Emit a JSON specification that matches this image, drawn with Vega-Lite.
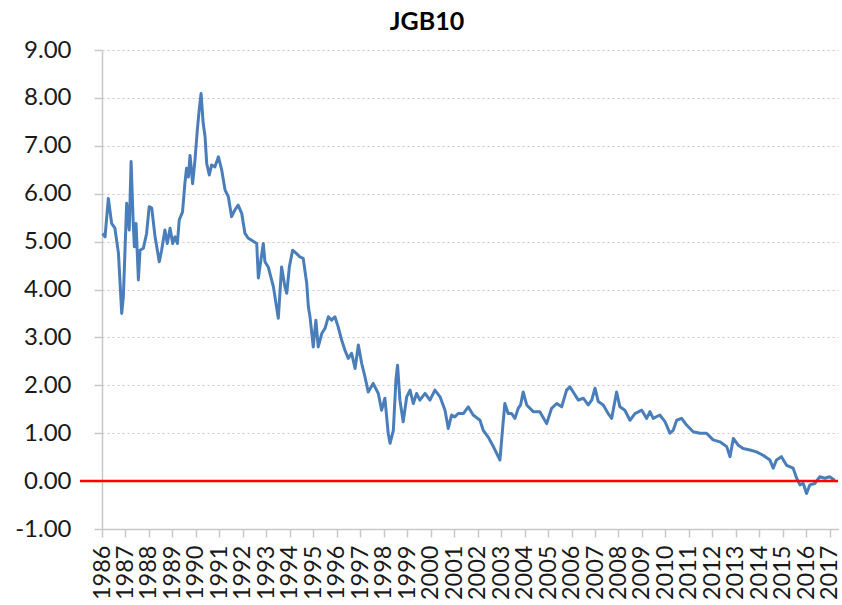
{
  "$schema": "https://vega.github.io/schema/vega-lite/v6.json",
  "width": 736,
  "height": 479,
  "autosize": "none",
  "padding": {"left": 102, "top": 50, "right": 4, "bottom": 76},
  "background": "white",
  "title": {"text": "JGB10", "font": "Lato", "fontSize": 25, "fontWeight": "bold", "color": "#000000", "anchor": "middle", "dx": -43, "dy": 21, "offset": 4, "baseline": "alphabetic"},
  "config": {"view": {"stroke": null}, "font": "Lato"},
  "resolve": {"axis": {"x": "independent"}},
  "layer": [
    {
      "data": {"values": [
        {"year": 1986.03, "yield": 5.17}, {"year": 1986.13, "yield": 5.10}, {"year": 1986.27, "yield": 5.90}, {"year": 1986.41, "yield": 5.38},
        {"year": 1986.55, "yield": 5.28}, {"year": 1986.70, "yield": 4.76}, {"year": 1986.84, "yield": 3.50}, {"year": 1986.91, "yield": 3.85},
        {"year": 1987.05, "yield": 5.80}, {"year": 1987.16, "yield": 5.24}, {"year": 1987.24, "yield": 6.67}, {"year": 1987.33, "yield": 5.38},
        {"year": 1987.38, "yield": 4.89}, {"year": 1987.45, "yield": 5.38}, {"year": 1987.55, "yield": 4.20}, {"year": 1987.62, "yield": 4.82},
        {"year": 1987.76, "yield": 4.86}, {"year": 1987.90, "yield": 5.17}, {"year": 1988.01, "yield": 5.73}, {"year": 1988.12, "yield": 5.70},
        {"year": 1988.26, "yield": 5.10}, {"year": 1988.44, "yield": 4.58}, {"year": 1988.54, "yield": 4.82}, {"year": 1988.68, "yield": 5.24},
        {"year": 1988.78, "yield": 4.96}, {"year": 1988.90, "yield": 5.28}, {"year": 1989.01, "yield": 4.96}, {"year": 1989.11, "yield": 5.10},
        {"year": 1989.21, "yield": 4.96}, {"year": 1989.29, "yield": 5.45}, {"year": 1989.43, "yield": 5.62}, {"year": 1989.53, "yield": 6.21},
        {"year": 1989.60, "yield": 6.53}, {"year": 1989.68, "yield": 6.35}, {"year": 1989.75, "yield": 6.80}, {"year": 1989.86, "yield": 6.21},
        {"year": 1989.96, "yield": 6.70}, {"year": 1990.06, "yield": 7.33}, {"year": 1990.14, "yield": 7.75}, {"year": 1990.22, "yield": 8.09},
        {"year": 1990.31, "yield": 7.47}, {"year": 1990.39, "yield": 7.19}, {"year": 1990.46, "yield": 6.63}, {"year": 1990.57, "yield": 6.39},
        {"year": 1990.67, "yield": 6.60}, {"year": 1990.81, "yield": 6.56}, {"year": 1990.96, "yield": 6.77}, {"year": 1991.10, "yield": 6.49},
        {"year": 1991.24, "yield": 6.08}, {"year": 1991.38, "yield": 5.94}, {"year": 1991.52, "yield": 5.52}, {"year": 1991.66, "yield": 5.66},
        {"year": 1991.80, "yield": 5.76}, {"year": 1991.95, "yield": 5.59}, {"year": 1992.09, "yield": 5.17}, {"year": 1992.23, "yield": 5.07},
        {"year": 1992.37, "yield": 5.03}, {"year": 1992.59, "yield": 4.96}, {"year": 1992.66, "yield": 4.24}, {"year": 1992.87, "yield": 4.96},
        {"year": 1992.94, "yield": 4.58}, {"year": 1993.08, "yield": 4.47}, {"year": 1993.30, "yield": 4.06}, {"year": 1993.51, "yield": 3.40},
        {"year": 1993.65, "yield": 4.47}, {"year": 1993.79, "yield": 4.06}, {"year": 1993.87, "yield": 3.92}, {"year": 1993.98, "yield": 4.47},
        {"year": 1994.12, "yield": 4.82}, {"year": 1994.29, "yield": 4.75}, {"year": 1994.43, "yield": 4.68}, {"year": 1994.57, "yield": 4.65},
        {"year": 1994.72, "yield": 4.13}, {"year": 1994.79, "yield": 3.64}, {"year": 1994.86, "yield": 3.43}, {"year": 1995.00, "yield": 2.80},
        {"year": 1995.11, "yield": 3.36}, {"year": 1995.21, "yield": 2.80}, {"year": 1995.36, "yield": 3.08}, {"year": 1995.50, "yield": 3.19},
        {"year": 1995.64, "yield": 3.43}, {"year": 1995.78, "yield": 3.36}, {"year": 1995.92, "yield": 3.43}, {"year": 1996.06, "yield": 3.22},
        {"year": 1996.21, "yield": 2.94}, {"year": 1996.35, "yield": 2.73}, {"year": 1996.49, "yield": 2.56}, {"year": 1996.63, "yield": 2.67},
        {"year": 1996.78, "yield": 2.35}, {"year": 1996.92, "yield": 2.84}, {"year": 1997.06, "yield": 2.46}, {"year": 1997.20, "yield": 2.18},
        {"year": 1997.34, "yield": 1.86}, {"year": 1997.55, "yield": 2.04}, {"year": 1997.77, "yield": 1.83}, {"year": 1997.91, "yield": 1.48},
        {"year": 1998.05, "yield": 1.73}, {"year": 1998.19, "yield": 1.00}, {"year": 1998.27, "yield": 0.79}, {"year": 1998.41, "yield": 1.06},
        {"year": 1998.52, "yield": 2.11}, {"year": 1998.59, "yield": 2.42}, {"year": 1998.69, "yield": 1.69}, {"year": 1998.83, "yield": 1.24},
        {"year": 1998.98, "yield": 1.76}, {"year": 1999.12, "yield": 1.90}, {"year": 1999.26, "yield": 1.62}, {"year": 1999.40, "yield": 1.83},
        {"year": 1999.54, "yield": 1.69}, {"year": 1999.76, "yield": 1.83}, {"year": 1999.97, "yield": 1.69}, {"year": 2000.18, "yield": 1.90},
        {"year": 2000.40, "yield": 1.76}, {"year": 2000.61, "yield": 1.48}, {"year": 2000.75, "yield": 1.10}, {"year": 2000.89, "yield": 1.38},
        {"year": 2001.03, "yield": 1.34}, {"year": 2001.17, "yield": 1.41}, {"year": 2001.39, "yield": 1.41}, {"year": 2001.60, "yield": 1.55},
        {"year": 2001.81, "yield": 1.38}, {"year": 2002.10, "yield": 1.27}, {"year": 2002.24, "yield": 1.06}, {"year": 2002.45, "yield": 0.92},
        {"year": 2002.67, "yield": 0.72}, {"year": 2002.95, "yield": 0.44}, {"year": 2003.07, "yield": 1.13}, {"year": 2003.16, "yield": 1.62},
        {"year": 2003.30, "yield": 1.41}, {"year": 2003.45, "yield": 1.41}, {"year": 2003.59, "yield": 1.31}, {"year": 2003.73, "yield": 1.52},
        {"year": 2003.83, "yield": 1.59}, {"year": 2003.94, "yield": 1.86}, {"year": 2004.09, "yield": 1.59}, {"year": 2004.37, "yield": 1.45},
        {"year": 2004.65, "yield": 1.45}, {"year": 2004.94, "yield": 1.20}, {"year": 2005.15, "yield": 1.52}, {"year": 2005.37, "yield": 1.62},
        {"year": 2005.58, "yield": 1.55}, {"year": 2005.79, "yield": 1.90}, {"year": 2005.93, "yield": 1.97}, {"year": 2006.07, "yield": 1.86},
        {"year": 2006.29, "yield": 1.69}, {"year": 2006.50, "yield": 1.73}, {"year": 2006.71, "yield": 1.59}, {"year": 2006.86, "yield": 1.69},
        {"year": 2007.00, "yield": 1.94}, {"year": 2007.14, "yield": 1.66}, {"year": 2007.35, "yield": 1.59}, {"year": 2007.56, "yield": 1.41},
        {"year": 2007.71, "yield": 1.31}, {"year": 2007.92, "yield": 1.86}, {"year": 2008.06, "yield": 1.55}, {"year": 2008.27, "yield": 1.48},
        {"year": 2008.49, "yield": 1.27}, {"year": 2008.70, "yield": 1.41}, {"year": 2008.99, "yield": 1.48}, {"year": 2009.20, "yield": 1.31},
        {"year": 2009.34, "yield": 1.45}, {"year": 2009.48, "yield": 1.31}, {"year": 2009.76, "yield": 1.38}, {"year": 2009.98, "yield": 1.24},
        {"year": 2010.19, "yield": 1.00}, {"year": 2010.33, "yield": 1.06}, {"year": 2010.48, "yield": 1.27}, {"year": 2010.69, "yield": 1.31},
        {"year": 2010.90, "yield": 1.17}, {"year": 2011.18, "yield": 1.03}, {"year": 2011.47, "yield": 1.00}, {"year": 2011.75, "yield": 1.00},
        {"year": 2012.03, "yield": 0.86}, {"year": 2012.32, "yield": 0.82}, {"year": 2012.61, "yield": 0.72}, {"year": 2012.75, "yield": 0.51},
        {"year": 2012.89, "yield": 0.89}, {"year": 2013.10, "yield": 0.75}, {"year": 2013.31, "yield": 0.68}, {"year": 2013.60, "yield": 0.65},
        {"year": 2013.88, "yield": 0.61}, {"year": 2014.16, "yield": 0.54}, {"year": 2014.45, "yield": 0.44}, {"year": 2014.59, "yield": 0.27},
        {"year": 2014.73, "yield": 0.44}, {"year": 2014.94, "yield": 0.51}, {"year": 2015.16, "yield": 0.33}, {"year": 2015.44, "yield": 0.27},
        {"year": 2015.59, "yield": 0.06}, {"year": 2015.73, "yield": -0.08}, {"year": 2015.87, "yield": -0.05}, {"year": 2016.01, "yield": -0.26},
        {"year": 2016.15, "yield": -0.08}, {"year": 2016.36, "yield": -0.05}, {"year": 2016.57, "yield": 0.09}, {"year": 2016.79, "yield": 0.06},
        {"year": 2016.99, "yield": 0.09}, {"year": 2017.21, "yield": 0.02}
      ]},
      "mark": {"type": "line", "color": "#4a7ebb", "strokeWidth": 3, "strokeJoin": "round"},
      "encoding": {
        "x": {
          "field": "year", "type": "quantitative",
          "scale": {"domain": [1986, 2017.35], "nice": false, "zero": false},
          "axis": {
            "title": null, "grid": false, "orient": "bottom",
            "values": [1986,1988,1990,1992,1994,1996,1998,2000,2002,2004,2006,2008,2010,2012,2014,2016],
            "labelExpr": "format(datum.value, 'd')",
            "labelAngle": -90, "labelAlign": "right", "labelBaseline": "middle",
            "labelFont": "Lato", "labelFontSize": 23.5, "labelColor": "#1a1a1a",
            "labelPadding": 8, "labelOverlap": false, "labelBound": false, "labelFlush": false,
            "tickSize": 8, "tickColor": "#c8c8c8", "tickWidth": 1.5,
            "domainColor": "#c8c8c8", "domainWidth": 1.5
          }
        },
        "y": {
          "field": "yield", "type": "quantitative",
          "scale": {"domain": [-1, 9], "nice": false, "zero": false},
          "axis": {
            "title": null, "values": [-1,0,1,2,3,4,5,6,7,8,9],
            "labelExpr": "replace(format(datum.value, '.2f'), '\u2212', '-')",
            "grid": true, "gridColor": "#c8c8c8", "gridDash": [2, 3], "gridWidth": 1.2,
            "labelFont": "Lato", "labelFontSize": 24, "labelColor": "#1a1a1a",
            "labelPadding": 23, "labelOverlap": false,
            "tickSize": 8, "tickColor": "#c8c8c8", "tickWidth": 1.5,
            "domainColor": "#c8c8c8", "domainWidth": 1.5
          }
        }
      }
    },
    {
      "data": {"values": [{}]},
      "mark": {"type": "rule", "color": "#ff0000", "strokeWidth": 2.5},
      "encoding": {
        "x": {
          "datum": 1985.06, "type": "quantitative",
          "axis": {
            "title": null, "grid": false, "orient": "bottom", "domain": false,
            "values": [1987,1989,1991,1993,1995,1997,1999,2001,2003,2005,2007,2009,2011,2013,2015,2017],
            "labelExpr": "format(datum.value, 'd')",
            "labelAngle": -90, "labelAlign": "right", "labelBaseline": "middle",
            "labelFont": "Lato", "labelFontSize": 23.5, "labelColor": "#1a1a1a",
            "labelPadding": 8, "labelOverlap": false, "labelBound": false, "labelFlush": false,
            "tickSize": 8, "tickColor": "#c8c8c8", "tickWidth": 1.5
          }
        },
        "x2": {"datum": 2017.35},
        "y": {"datum": 0}
      }
    }
  ]
}
